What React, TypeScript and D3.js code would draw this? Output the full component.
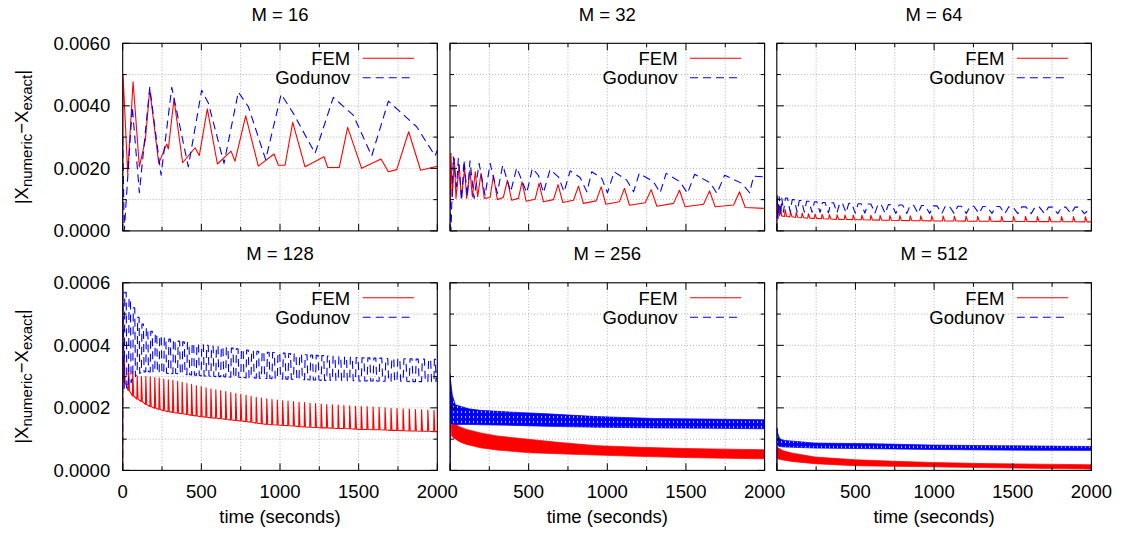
import React from 'react';
import * as d3 from 'd3';

type Pt = [number, number];
type Band = [number, number, number]; // [time, upper, lower]

// ---------- axes / labels ----------
const timeTicks = [0, 500, 1000, 1500, 2000];
const timeMinorTicks = [250, 750, 1250, 1750];
const topErrTicks = [0, 0.002, 0.004, 0.006];
const topErrMinor = [0.001, 0.003, 0.005];
const topErrLabels = ['0.0000', '0.0020', '0.0040', '0.0060'];
const bottomErrTicks = [0, 0.0002, 0.0004, 0.0006];
const bottomErrMinor = [0.0001, 0.0003, 0.0005];
const bottomErrLabels = ['0.0000', '0.0002', '0.0004', '0.0006'];
const panelTitles = ['M = 16', 'M = 32', 'M = 64', 'M = 128', 'M = 256', 'M = 512'];
const seriesNames = ['FEM', 'Godunov'];

// ---------- M = 16 ----------
const fem16: Pt[] = [[0,0],[2,0.005],[32,0.00184],[66,0.00477],[106,0.00205],[144,0.0029],[172,0.00453],[229,0.00216],[280,0.00278],[290,0.00262],[326,0.00422],[381,0.00218],[460,0.00266],[487,0.00241],[538,0.0039],[602,0.00214],[689,0.00255],[714,0.00223],[782,0.00368],[862,0.00207],[962,0.00246],[990,0.0021],[1032,0.0021],[1081,0.00347],[1159,0.00205],[1280,0.00237],[1303,0.00203],[1377,0.00203],[1430,0.00331],[1519,0.002],[1642,0.0023],[1689,0.00189],[1742,0.00196],[1818,0.00317],[1894,0.00194],[2000,0.00207]];
const god16: Pt[] = [[0,0.003],[10,0],[61,0.00397],[106,0.00122],[172,0.00459],[244,0.00178],[312,0.00459],[417,0.00205],[502,0.0045],[545,0.00408],[644,0.00216],[735,0.00444],[799,0.00397],[909,0.00228],[1007,0.00437],[1085,0.00376],[1223,0.00248],[1339,0.00427],[1466,0.0037],[1583,0.0024],[1689,0.00415],[1869,0.00333],[1986,0.0024],[2000,0.00258]];

// ---------- M = 32 ----------
const fem32: Pt[] = [[0,0],[6,0.00248],[15,0.00109],[28,0.00232],[38,0.00104],[59,0.0021],[72,0.00104],[93,0.002],[106,0.00104],[127,0.00194],[142,0.00109],[161,0.00189],[176,0.00109],[197,0.00184],[218,0.00104],[255,0.00107],[276,0.00178],[301,0.001],[339,0.00107],[365,0.00162],[392,0.00098],[435,0.00104],[458,0.00157],[484,0.00095],[541,0.00101],[566,0.00152],[594,0.00093],[658,0.001],[687,0.00148],[717,0.00091],[785,0.00098],[817,0.00143],[848,0.00088],[929,0.00096],[961,0.00141],[991,0.00085],[1077,0.00093],[1109,0.00136],[1141,0.00082],[1241,0.0009],[1279,0.00132],[1315,0.00079],[1421,0.00088],[1459,0.0013],[1495,0.00077],[1612,0.00085],[1650,0.00128],[1686,0.00077],[1803,0.00083],[1841,0.00125],[1877,0.00075],[2000,0.00072]];
const god32: Pt[] = [[0,0.00098],[6,0],[21,0.00237],[42,0.00141],[53,0.00232],[74,0.00098],[89,0.00226],[110,0.00109],[127,0.00224],[153,0.00104],[185,0.00216],[223,0.00114],[255,0.00216],[301,0.0012],[335,0.0021],[386,0.00125],[424,0.00202],[488,0.00122],[524,0.002],[562,0.00178],[594,0.00122],[636,0.00196],[689,0.00173],[725,0.00125],[764,0.00192],[827,0.00171],[870,0.00125],[901,0.00189],[965,0.00168],[1001,0.00122],[1044,0.00189],[1124,0.00162],[1167,0.00125],[1203,0.00184],[1294,0.00157],[1336,0.00122],[1374,0.00184],[1463,0.00157],[1510,0.0012],[1555,0.00181],[1654,0.00154],[1697,0.0012],[1746,0.00178],[1856,0.00152],[1905,0.00122],[1930,0.00175],[2000,0.00173]];

// ---------- M = 64 ----------
const fem64Head: Pt[] = [[0,0],[2,0.00114],[7,0.0005],[12,0.00085]];
const fem64Times = [21,53,87,123,161,201,243,288,334,383,433,486,541,598,657,719,782,848,915,985,1057,1129,1203,1277,1353,1429,1505,1581,1657,1733,1810,1886,1962];
const fem64Peaks = [0.0008,0.00068,0.00062,0.00059,0.00057,0.00055,0.00054,0.00053,0.00052,0.000515,0.00051,0.000505,0.0005,0.0005,0.000495,0.00049,0.00049,0.000485,0.00048,0.00048,0.000478,0.000475,0.000472,0.00047,0.00047,0.000468,0.000465,0.000465,0.000462,0.00046,0.00046,0.000458,0.000455];
const fem64Troughs = [0.00048,0.00046,0.00045,0.00043,0.00042,0.00041,0.0004,0.00039,0.00038,0.00037,0.000365,0.00036,0.000355,0.00035,0.000345,0.00034,0.000335,0.00033,0.000325,0.00032,0.000318,0.000315,0.000312,0.00031,0.000307,0.000305,0.000302,0.0003,0.000298,0.000296,0.000294,0.000292,0.00029];
const fem64Tail: Pt = [2000, 0.00029];

const god64Head: Pt[] = [[0,0],[2,0.00115],[8,0.0004],[15,0.0011],[25,0.0005],[32,0.00105]];
const god64Cusps = [42,85,129,175,224,275,328,383,440,499,560,624,689,757,827,898,972,1049,1127,1205,1285,1368,1450,1533,1617,1702,1786,1871,1955];
const god64Lows = [0.0006,0.00061,0.0006,0.0006,0.00059,0.00059,0.00058,0.00058,0.00058,0.00057,0.00057,0.00057,0.00056,0.00056,0.00056,0.00056,0.00056,0.00056,0.00056,0.00056,0.00056,0.00056,0.00055,0.00055,0.00055,0.00055,0.00055,0.00055,0.00055];
const god64Highs = [0.00105,0.001,0.00097,0.00095,0.00093,0.00091,0.0009,0.00089,0.00088,0.00087,0.00086,0.00085,0.00084,0.00083,0.00082,0.00081,0.0008,0.0008,0.00079,0.00079,0.00078,0.00078,0.00077,0.00077,0.00077,0.00076,0.00076,0.00076];
const god64Tail: Pt = [2000, 0.00074];

// ---------- M = 128 ----------
const cycle128Times = [10,37,64,92,119,147,175,204,232,261,290,319,349,378,408,438,468,499,530,561,592,623,655,687,719,751,784,816,849,882,916,949,983,1017,1051,1086,1121,1156,1191,1226,1262,1297,1333,1370,1406,1443,1480,1517,1554,1592,1630,1668,1706,1744,1783,1822,1861,1900,1940,1979];
const fem128Head: Pt[] = [[0,0],[1,0.0006],[4,0.00035]];
const fem128Peaks = [0.00036,0.00034,0.000315,0.000302,0.0003,0.0003,0.000299,0.000297,0.000295,0.000292,
  0.00029,0.000288,0.000285,0.000282,0.000278,0.000275,0.000271,0.000268,0.000264,0.000261,
  0.000258,0.000255,0.000252,0.000249,0.000246,0.000243,0.00024,0.000237,0.000234,0.000231,
  0.000229,0.000227,0.000225,0.000223,0.000222,0.00022,0.000218,0.000217,0.000215,0.000214,
  0.000212,0.000211,0.00021,0.000209,0.000208,0.000207,0.000205,0.000204,0.000204,0.000203,
  0.000202,0.0002,0.000199,0.000198,0.000197,0.000196,0.000195,0.000194,0.000193,0.000192];
const fem128Troughs = [0.00028,0.000255,0.000238,0.000228,0.00022,0.000211,0.000204,0.000199,0.000195,0.000191,
  0.000188,0.000185,0.000183,0.000181,0.000179,0.000176,0.000174,0.000172,0.00017,0.000168,
  0.000167,0.000165,0.000163,0.000161,0.00016,0.000158,0.000156,0.000154,0.000151,0.000149,
  0.000147,0.000146,0.000145,0.000144,0.000143,0.000142,0.00014,0.000139,0.000138,0.000137,
  0.000136,0.000136,0.000135,0.000134,0.000134,0.000133,0.000132,0.000131,0.000131,0.00013,
  0.00013,0.000129,0.000128,0.000128,0.000127,0.000126,0.000126,0.000125,0.000125,0.000124];
const fem128Tail: Pt = [2000, 0.000124];

const god128Head: Pt[] = [[0,0],[1,0.00058]];
const god128Highs = [0.00057,0.00055,0.00052,0.00049,0.000468,0.000455,0.000445,0.000438,0.00043,0.000424,
  0.00042,0.000417,0.000414,0.000411,0.000409,0.000406,0.000404,0.000402,0.0004,0.000398,
  0.000397,0.000395,0.000393,0.000391,0.000389,0.000387,0.000385,0.000383,0.000381,0.00038,
  0.000378,0.000377,0.000376,0.000375,0.000374,0.000373,0.000371,0.00037,0.000369,0.000368,
  0.000367,0.000366,0.000365,0.000364,0.000363,0.000362,0.000361,0.00036,0.00036,0.000359,
  0.000359,0.000358,0.000358,0.000358,0.000357,0.000357,0.000356,0.000356,0.000355,0.000355];
const god128Lows = [0.00026,0.00028,0.0003,0.00031,0.000315,0.000316,0.000315,0.000314,0.000312,0.000311,
  0.00031,0.00031,0.000309,0.000308,0.000306,0.000305,0.000304,0.000302,0.000302,0.000301,
  0.0003,0.0003,0.000299,0.000298,0.000298,0.000297,0.000296,0.000296,0.000295,0.000294,
  0.000294,0.000293,0.000293,0.000292,0.000292,0.000291,0.00029,0.00029,0.000289,0.000289,
  0.000288,0.000288,0.000288,0.000287,0.000287,0.000287,0.000286,0.000286,0.000286,0.000286,
  0.000285,0.000285,0.000285,0.000285,0.000285,0.000284,0.000284,0.000284,0.000284,0.000284];
const god128Tail: Pt = [2000, 0.00032];

// ---------- M = 256 (dense oscillation: upper / lower edges) ----------
const fem256Head: Pt[] = [[0,0],[1,0.00031],[4,0.00012],[10,0.000165]];
const fem256Band: Band[] = [[10,0.000165,0.00011],[24,0.000152,0.000104],[60,0.00014,0.000092],[100,0.000132,0.000084],[193,0.00012,0.0000724],[300,0.00011,0.000065],[511,0.0000989,0.0000564],[700,0.000089,0.000053],[936,0.000079,0.000049],[1200,0.000074,0.000045],[1500,0.00007,0.000041],[1750,0.000068,0.000039],[2000,0.000066,0.000037]];
const god256Head: Pt[] = [[0,0],[1,0.0003],[3,0.00029]];
const god256Band: Band[] = [[3,0.00029,0.00015],[15,0.00024,0.00015],[34,0.00021,0.000147],[119,0.000197,0.000147],[193,0.000192,0.000146],[405,0.000186,0.000144],[617,0.000181,0.000141],[936,0.000172,0.000138],[1300,0.000166,0.000136],[1650,0.000164,0.000135],[2000,0.000162,0.000133]];

// ---------- M = 512 ----------
const fem512Head: Pt[] = [[0,0],[1,0.000075],[2,0.000075]];
const fem512Band: Band[] = [[2,0.000075,0.00004],[10,0.0000715,0.0000364],[40,0.000063,0.000033],[95,0.0000555,0.0000287],[243,0.0000428,0.0000214],[497,0.0000341,0.000015],[750,0.000029,0.000013],[983,0.0000255,0.0000115],[1300,0.000022,0.000009],[1650,0.00002,0.0000065],[2000,0.000018,0.0000045]];
const god512Head: Pt[] = [[0,0],[1,0.000135],[2,0.000135]];
const god512Band: Band[] = [[2,0.000135,0.00009],[5,0.00012,0.00008],[20,0.0001,0.000076],[52,0.0000957,0.0000747],[243,0.0000874,0.0000715],[624,0.0000852,0.0000693],[983,0.000081,0.000067],[1400,0.000079,0.000065],[2000,0.0000765,0.000064]];

// ---------- series builders (from the arrays above) ----------
function spikeSeries(head: Pt[], times: number[], peaks: number[], troughs: number[], rise: number, fall: number, tail: Pt): Pt[] {
  const pts: Pt[] = [...head];
  times.forEach((t, i) => {
    pts.push([t - rise, troughs[i]], [t, peaks[i]], [t + fall, troughs[i]]);
  });
  pts.push(tail);
  return pts;
}
// each cycle: low at its start time, high plateau between fractions f[0]..f[1] of the cycle,
// back to low at fraction f[2] (1 = at the next cycle start)
function archSeries(head: Pt[], times: number[], lows: number[], highs: number[], tail: Pt, f: [number, number, number]): Pt[] {
  const pts: Pt[] = [...head];
  times.forEach((t, i) => {
    pts.push([t, lows[i]]);
    if (i < highs.length) {
      const next = i + 1 < times.length ? times[i + 1] : tail[0];
      const dt = next - t;
      pts.push([t + f[0] * dt, highs[i]], [t + f[1] * dt, highs[i]]);
      if (f[2] < 1) pts.push([t + f[2] * dt, lows[i]]);
    }
  });
  pts.push(tail);
  return pts;
}

type Series = { kind: 'line'; pts: Pt[] } | { kind: 'band'; head: Pt[]; band: Band[] };
type PanelSpec = { title: string; col: number; row: number; fem: Series; god: Series };

const panels: PanelSpec[] = [
  { title: panelTitles[0], col: 0, row: 0, fem: { kind: 'line', pts: fem16 }, god: { kind: 'line', pts: god16 } },
  { title: panelTitles[1], col: 1, row: 0, fem: { kind: 'line', pts: fem32 }, god: { kind: 'line', pts: god32 } },
  { title: panelTitles[2], col: 2, row: 0,
    fem: { kind: 'line', pts: spikeSeries(fem64Head, fem64Times, fem64Peaks, fem64Troughs, 4, 10, fem64Tail) },
    god: { kind: 'line', pts: archSeries(god64Head, god64Cusps, god64Lows, god64Highs, god64Tail, [0.3, 0.6, 1]) } },
  { title: panelTitles[3], col: 0, row: 1,
    fem: { kind: 'line', pts: spikeSeries(fem128Head, cycle128Times, fem128Peaks, fem128Troughs, 2, 6, fem128Tail) },
    god: { kind: 'line', pts: archSeries(god128Head, cycle128Times, god128Lows, god128Highs, god128Tail, [0.12, 0.45, 0.6]) } },
  { title: panelTitles[4], col: 1, row: 1, fem: { kind: 'band', head: fem256Head, band: fem256Band }, god: { kind: 'band', head: god256Head, band: god256Band } },
  { title: panelTitles[5], col: 2, row: 1, fem: { kind: 'band', head: fem512Head, band: fem512Band }, god: { kind: 'band', head: god512Head, band: god512Band } },
];

// ---------- layout & style ----------
const W = 1121, H = 533;
const COL_X = [122.7, 450, 776.8];
const ROW_Y = [43.3, 282.8];
const PW = 314.6, PH = 187.6;
const FONT = "'Liberation Sans', Arial, Helvetica, sans-serif";
const FS = 18.5;
const RED = '#ff0000', BLUE = '#0000ff';
const DASH = '8,5';

function Panel({ spec, idx }: { spec: PanelSpec; idx: number }) {
  const x0 = COL_X[spec.col], y0 = ROW_Y[spec.row];
  const isTop = spec.row === 0;
  const yTicks = isTop ? topErrTicks : bottomErrTicks;
  const yMinor = isTop ? topErrMinor : bottomErrMinor;
  const yLabels = isTop ? topErrLabels : bottomErrLabels;
  const x = d3.scaleLinear().domain([timeTicks[0], timeTicks[timeTicks.length - 1]]).range([x0, x0 + PW]);
  const y = d3.scaleLinear().domain([yTicks[0], yTicks[yTicks.length - 1]]).range([y0 + PH, y0]);
  const line = d3.line<Pt>().x(d => x(d[0])).y(d => y(d[1]));
  const area = d3.area<Band>().x(d => x(d[0])).y0(d => y(d[2])).y1(d => y(d[1]));
  const clipId = `clip${idx}`;
  const right = x0 + PW, bottom = y0 + PH;

  const renderSeries = (s: Series, color: string, dashed: boolean) => {
    if (s.kind === 'line') {
      return <path d={line(s.pts) || ''} fill="none" stroke={color} strokeWidth={1.1}
        strokeDasharray={dashed ? DASH : undefined} strokeLinejoin="round" />;
    }
    return (
      <g>
        <path d={line(s.head) || ''} fill="none" stroke={color} strokeWidth={1.1} />
        <path d={area(s.band) || ''} fill={dashed ? 'url(#godTexture)' : color} stroke={color}
          strokeWidth={0.8} strokeOpacity={0.9} />
      </g>
    );
  };

  const xAll = [...timeTicks, ...timeMinorTicks];
  const yAll = [...yTicks, ...yMinor];

  return (
    <g>
      <defs>
        <clipPath id={clipId}><rect x={x0} y={y0} width={PW} height={PH} /></clipPath>
      </defs>
      {/* grid */}
      <g stroke="#a8a8a8" strokeWidth={0.9} strokeDasharray="1,2">
        {xAll.filter(t => t > 0 && t < 2000).map(t => (
          <line key={'gx' + t} x1={x(t)} x2={x(t)} y1={y0} y2={bottom} />
        ))}
        {yAll.filter(v => v > yTicks[0] && v < yTicks[yTicks.length - 1]).map(v => (
          <line key={'gy' + v} x1={x0} x2={right} y1={y(v)} y2={y(v)} />
        ))}
      </g>
      {/* legend */}
      <g fontFamily={FONT} fontSize={FS} fill="#000">
        <text x={right - 87} y={y0 + 21.7} textAnchor="end">{seriesNames[0]}</text>
        <text x={right - 87} y={y0 + 41} textAnchor="end">{seriesNames[1]}</text>
      </g>
      <line x1={right - 74.6} x2={right - 23.3} y1={y0 + 15} y2={y0 + 15} stroke={RED} strokeWidth={1.1} />
      <line x1={right - 74.6} x2={right - 23.3} y1={y0 + 34.4} y2={y0 + 34.4} stroke={BLUE} strokeWidth={1.1} strokeDasharray={DASH} />
      {/* data */}
      <g clipPath={`url(#${clipId})`}>
        {renderSeries(spec.fem, RED, false)}
        {renderSeries(spec.god, BLUE, true)}
      </g>
      {/* ticks */}
      <g stroke="#000" strokeWidth={1}>
        {xAll.map(t => {
          const len = timeTicks.includes(t) ? 7 : 4;
          return (
            <g key={'tx' + t}>
              <line x1={x(t)} x2={x(t)} y1={bottom} y2={bottom - len} />
              <line x1={x(t)} x2={x(t)} y1={y0} y2={y0 + len} />
            </g>
          );
        })}
        {yAll.map(v => {
          const len = yTicks.includes(v) ? 7 : 4;
          return (
            <g key={'ty' + v}>
              <line x1={x0} x2={x0 + len} y1={y(v)} y2={y(v)} />
              <line x1={right} x2={right - len} y1={y(v)} y2={y(v)} />
            </g>
          );
        })}
      </g>
      {/* frame */}
      <rect x={x0} y={y0} width={PW} height={PH} fill="none" stroke="#000" strokeWidth={1.1} />
      {/* title */}
      <text x={x0 + PW / 2} y={y0 - 22.5} textAnchor="middle" fontFamily={FONT} fontSize={FS}>{spec.title}</text>
      {/* y tick labels */}
      {spec.col === 0 && yTicks.map((v, i) => (
        <text key={'yl' + v} x={x0 - 12.5} y={y(v) + 6.5} textAnchor="end" fontFamily={FONT} fontSize={FS}>{yLabels[i]}</text>
      ))}
      {/* x tick labels (a panel's "0" coincides with the neighbour's "2000") */}
      {!isTop && timeTicks.filter(t => spec.col === 0 || t > 0).map(t => (
        <text key={'xl' + t} x={x(t)} y={bottom + 27.5} textAnchor="middle" fontFamily={FONT} fontSize={FS}>{t}</text>
      ))}
      {!isTop && (
        <text x={x0 + PW / 2} y={bottom + 52.5} textAnchor="middle" fontFamily={FONT} fontSize={FS}>time (seconds)</text>
      )}
      {spec.col === 0 && (
        <text transform={`translate(28,${y0 + PH / 2}) rotate(-90)`} textAnchor="middle" fontFamily={FONT} fontSize={FS}>
          |X<tspan fontSize={15} dy={4}>numeric</tspan><tspan dy={-4}>−X</tspan><tspan fontSize={15} dy={4}>exact</tspan><tspan dy={-4}>|</tspan>
        </text>
      )}
    </g>
  );
}

export default function App() {
  return (
    <svg width={W} height={H} viewBox={`0 0 ${W} ${H}`}
      style={{ position: 'absolute', left: 0, top: 0, display: 'block', background: '#fff' }}>
      <defs>
        <pattern id="godTexture" width={4} height={5} patternUnits="userSpaceOnUse">
          <rect width={4} height={5} fill={BLUE} />
          <rect x={1} y={1} width={1} height={2} fill="#ffffff" fillOpacity={0.75} />
        </pattern>
      </defs>
      <rect x={0} y={0} width={W} height={H} fill="#fff" />
      {panels.map((p, i) => <Panel key={i} spec={p} idx={i} />)}
    </svg>
  );
}
